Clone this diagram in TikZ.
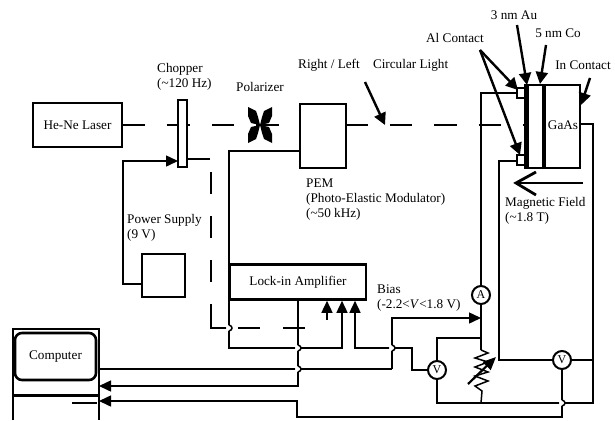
\documentclass[tikz,border=0pt]{standalone}
\usepackage{fontspec}
\setmainfont{Liberation Serif}
\usetikzlibrary{arrows.meta,positioning,calc}
\tikzset{lab/.style={font=\fontsize{13.2}{15}\selectfont,inner sep=0pt},txt/.style={lab,anchor=west},box/.style={draw,line width=1.9pt,fill=white,inner sep=0pt},meter/.style={circle,draw,line width=2pt,fill=white,inner sep=0pt,minimum size=18pt,font=\fontsize{12}{12}\selectfont},wire/.style={line width=1.5pt},feed/.style={wire,-{Triangle[length=12pt,width=11pt]}},beam/.style={line width=2.1pt,dash pattern=on 22.3pt off 22.2pt},point/.style={line width=2.4pt,-{Triangle[length=12pt,width=12pt]}},layer/.style={line width=#1}}
\newcommand{\hop}[1]{\fill[white] (#1) circle (3pt);\draw[wire] ($(#1)+(0,-3)$) .. controls +(4,1) and +(4,-1) .. ($(#1)+(0,3)$);}
\begin{document}
\begin{tikzpicture}[x=1pt,y=-1pt]
\useasboundingbox (0,0) rectangle (615,420);
% optical path
\node[box,minimum width=89pt,minimum height=44pt] (laser) at (77.5,125) {};
\coordinate (beamend) at (527,125);
\draw[beam] (laser.east)--(beamend);
\node[lab] (lasertxt) at (laser) {He-Ne Laser};
\node[box,line width=1.5pt,minimum width=9pt,minimum height=67pt] (chopper) at (182.5,133.5) {};
\node[box,minimum width=46pt,minimum height=64pt] (pem) at (323,136) {};
\coordinate (polar) at (260,125);
\foreach \sx/\sy in {1/1,-1/1,1/-1,-1/-1}{\fill (polar)--++(\sx*9,\sy*2)--++(\sx*3,\sy*7)--++(\sx*0,\sy*9)--++(\sx*-8,\sy*-4)--++(\sx*-2,\sy*-6)--cycle;}
% sample
\node[draw,line width=1.8pt,fill=white,minimum width=53pt,minimum height=83pt,inner sep=0pt] (sample) at (553.5,126.5) {};
\draw[layer=5pt] (sample.north west)--(sample.south west);
\coordinate (cotop) at (544,85);\coordinate (cobot) at (544,168);
\draw[layer=4pt] (cotop)--(cobot);
\node[lab] (gaas) at (563,125) {GaAs};
\node[draw,line width=1.4pt,minimum width=10pt,minimum height=10pt,inner sep=0pt] (alup) at (522,93) {};
\node[draw,line width=1.4pt,minimum width=10pt,minimum height=10pt,inner sep=0pt] (allow) at (522,160) {};
% boxes and meters
\node[box,minimum width=43pt,minimum height=43pt] (supply) at (163.5,275.5) {};
\node[box,line width=2.6pt,minimum width=136pt,minimum height=35pt,lab] (lockin) at (298,282) {Lock-in Amplifier};
\node[meter] (ammeter) at (481,295) {A};
\node[meter] (vbias) at (437,370) {V};
\node[meter] (vsample) at (562,360) {V};
\node[draw,line width=2.6pt,rounded corners=7pt,minimum width=81pt,minimum height=47pt,inner sep=0pt,lab] (screen) at (55.5,356.5) {Computer};
\coordinate (caseleft) at (13,420);\coordinate (casetl) at (13,329);\coordinate (casetr) at (99,329);\coordinate (caseright) at (99,420);
\draw[line width=2pt] (caseleft)--(casetl)--(casetr)--(caseright);
\coordinate (shelfl) at (13,395);\coordinate (shelfr) at (99,395);\draw[line width=3pt] (shelfl)--(shelfr);
\coordinate (slotl) at (72,403);\coordinate (slotr) at (97,403);\draw[wire] (slotl)--(slotr);
% power and reference lines
\coordinate (supplyout) at (142,284);\coordinate (supplybend) at (123,161);\coordinate (chopin) at (178,161);
\draw[feed] (supplyout)-|(supplybend)--(chopin);
\coordinate (chopout) at (187,159);\coordinate (refbend) at (210,159);\draw[wire] (chopout)--(refbend);
\coordinate (refa) at (211,172);\coordinate (refb) at (211,305);\coordinate (refc) at (211,328);\coordinate (refd) at (229,328);\coordinate (refe) at (238,328);\coordinate (reff) at (305,328);
\draw[line width=2pt,dash pattern=on 22pt off 22pt] (refa)--(refb);
\draw[line width=1.7pt] (refb)--(refc)--(refd);
\draw[line width=1.7pt,dash pattern=on 22pt off 23pt] (refe)--(reff);
\coordinate (pemout) at (300,151);\coordinate (pembend) at (229,151);\coordinate (sigbend) at (229,348);\coordinate (siga) at (342,348);
\draw[feed] (pemout)--(pembend)--(sigbend)--(siga)--(siga|-lockin.south);
\coordinate (inref) at (327,320);\draw[feed] (inref)--(inref|-lockin.south);
\coordinate (sigb) at (355,348);\coordinate (sigc) at (412,348);
\draw[feed] (vbias.west)-|(sigc)--(sigb)--(sigb|-lockin.south);
% circuit
\coordinate (lockbend) at (298,386);\coordinate (compa) at (99,386);
\draw[feed] (lockin.south)--(lockbend)--(compa);
\coordinate (compout) at (99,369);\coordinate (biasbend) at (392,369);\coordinate (biasin) at (481,318);
\draw[wire] (compout)--(biasbend);\draw[feed] (biasbend)|-(biasin);
\coordinate (restop) at (481,350);\coordinate (resbot) at (481,391);\coordinate (jtop) at (481,338);\coordinate (jbot) at (481,403);\coordinate (jright) at (593,403);\coordinate (incontact) at (580,124);
\draw[wire] (alup.west)-|(ammeter.north);\draw[wire] (ammeter.south)--(restop);
\draw[wire] (restop)--++(7,3)--++(-13,5)--++(13,4)--++(-13,5)--++(13,5)--++(-13,4)--++(13,5)--++(-13,5)--++(7,5)--(jbot);
\draw[wire] (vbias.north)|-(jtop);\draw[wire] (vbias.south)|-(jbot)--(jright)|-(incontact);
\coordinate (alleft) at (499,161);
\draw[wire] (allow.west|-alleft)--(alleft)|-(vsample.west);\draw[wire] (vsample.east)--(vsample.east-|jright);
\coordinate (vlow) at (562,417);\coordinate (vturn) at (297,417);\coordinate (compb) at (99,401);
\draw[feed] (vsample.south)--(vlow)--(vturn)|-(compb);
\coordinate (trima) at (468,384);\coordinate (trimb) at (496,357);\draw[line width=2.2pt,-{Triangle[length=13pt,width=11pt]}] (trima)--(trimb);
\coordinate (hopa) at (229,328);\coordinate (hopb) at (298,348);\coordinate (hopc) at (298,369);\coordinate (hopd) at (392,348);\coordinate (hope) at (562,403);
\foreach \h in {hopa,hopb,hopc,hopd,hope}{\hop{\h}}
% field and pointers
\coordinate (fielda) at (583,183);\coordinate (fieldb) at (516,183);\coordinate (barba) at (536,172);\coordinate (barbb) at (536,195);
\draw[line width=1.7pt] (fielda)--(fieldb);\draw[line width=2.8pt] (barba)--(fieldb)--(barbb);
\node[txt] (altxt) at (426,38) {Al Contact};
\node[lab] (autxt) at (514,15) {3 nm Au};
\node[lab] (cotxt) at (558,33) {5 nm Co};
\node[lab] (intxt) at (583,65) {In Contact};
\coordinate (alfrom) at (480,50);\coordinate (aufrom) at (517,25);\coordinate (cofrom) at (546,45);\coordinate (infrom) at (590,78);\coordinate (lightfrom) at (365,82);
\coordinate (alto) at (518,90);\coordinate (altob) at (520,155);\coordinate (auto) at (527,85);\coordinate (coto) at (540,84);\coordinate (into) at (581,105);\coordinate (lightto) at (385,125);
\draw[point] (alfrom)--(alto);\draw[point] (alfrom)--(altob);\draw[point] (aufrom)--(auto);\draw[point] (cofrom)--(coto);\draw[point] (infrom)--(into);\draw[point] (lightfrom)--(lightto);
% labels
\node[txt] (lighttxt) at (298,65) {Right / Left\hspace{1em}Circular Light};
\node[txt,align=left] (choptxt) at (157,77) {Chopper\\(\textasciitilde120 Hz)};
\node[lab] (poltxt) at (260,87) {Polarizer};
\node[txt,align=left] (pemtxt) at (306,200) {PEM\\(Photo-Elastic Modulator)\\(\textasciitilde50 kHz)};
\node[txt,align=left] (supplytxt) at (127,228) {Power Supply\\(9 V)};
\node[txt,align=left] (biastxt) at (377,298) {Bias\\(-2.2<\textit{V}<1.8 V)};
\node[txt,align=left] (fieldtxt) at (505,211) {Magnetic Field\\(\textasciitilde1.8 T)};
\end{tikzpicture}
\end{document}
